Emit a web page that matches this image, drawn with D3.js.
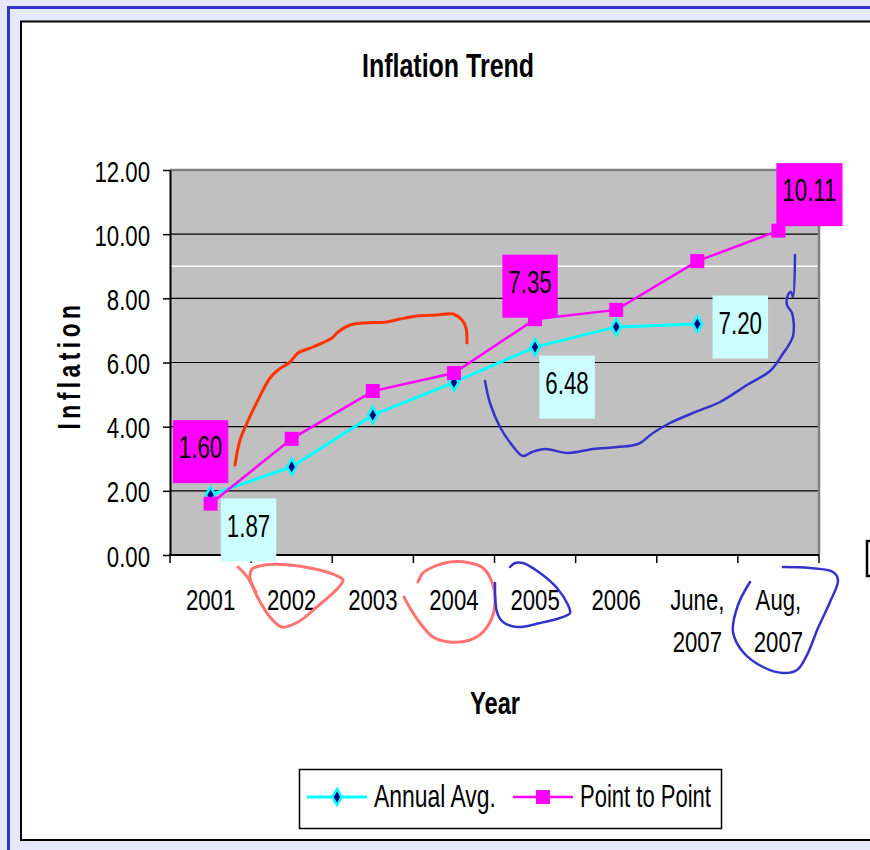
<!DOCTYPE html>
<html><head><meta charset="utf-8">
<script src="https://cdn.jsdelivr.net/npm/d3@7"></script>
<style>
html,body{margin:0;padding:0;background:#e6e9fc;overflow:hidden;}
svg{display:block;}
text{font-family:"Liberation Sans Narrow","Arial Narrow","Liberation Sans",Arial,sans-serif;fill:#000;}
</style></head><body>
<svg id="chart" width="870" height="850"></svg>
<script>
// ---------------- data ----------------
const categories = ["2001", "2002", "2003", "2004", "2005", "2006", "June, 2007", "Aug, 2007"];
const annualAvg = [1.87, 2.75, 4.36, 5.38, 6.48, 7.11, 7.20, null];
const pointToPoint = [1.60, 3.62, 5.11, 5.67, 7.35, 7.64, 9.16, 10.11];
const yTickValues = [0, 2, 4, 6, 8, 10, 12];
const referenceValue = 9.0;
const seriesNames = ["Annual Avg.", "Point to Point"];
const labelledAnnual = [0, 4, 6];
const labelledP2P = [0, 4, 7];

// ---------------- layout / style ----------------
const W = 870, H = 850;
const plot = {left: 170, right: 819, top: 170, bottom: 555};
const cyan = "#00ffff", magenta = "#ff00ff", navy = "#000080", paleCyan = "#ccffff";
const labelOffsetAnnual = {0: [38, 35], 4: [32, 40], 6: [43, 3]};
const labelOffsetP2P = {0: [-10, -52], 4: [-5, -33], 7: [31, -36]};

// narrow-font emulation: if a condensed face is not installed, squeeze horizontally
function hasFont(name) {
  const c = document.createElement("canvas").getContext("2d");
  c.font = "40px monospace"; const a = c.measureText("Inflation 12.00 Annual").width;
  c.font = `40px "${name}", monospace`; const b = c.measureText("Inflation 12.00 Annual").width;
  return a !== b;
}
const NARROW = hasFont("Liberation Sans Narrow") || hasFont("Arial Narrow");
const sq = s => NARROW ? 1 : s;

const svg = d3.select("#chart");
function ntext(parent, x, y, str, size, anchor, sx, extra) {
  return parent.append("text")
    .attr("transform", `translate(${x},${y})${extra || ""} scale(${sq(sx)},1)`)
    .attr("font-size", size).attr("text-anchor", anchor || "start").text(str);
}

// page frame
svg.append("rect").attr("x", 0).attr("y", 0).attr("width", W).attr("height", H).attr("fill", "#e6e9fc");
svg.append("line").attr("x1", 8).attr("x2", W).attr("y1", 7.5).attr("y2", 7.5).attr("stroke", "#3333cc").attr("stroke-width", 3);
svg.append("line").attr("x1", 8.5).attr("x2", 8.5).attr("y1", 6).attr("y2", H).attr("stroke", "#3333cc").attr("stroke-width", 3);
svg.append("rect").attr("x", 21).attr("y", 21.5).attr("width", W).attr("height", 818.5)
  .attr("fill", "#fff").attr("stroke", "#000").attr("stroke-width", 2);

// scales
const x = d3.scaleBand().domain(categories).range([plot.left, plot.right]).padding(0);
const y = d3.scaleLinear().domain([0, 12]).range([plot.bottom, plot.top]);
const cx = i => x(categories[i]) + x.bandwidth() / 2;

// plot background
svg.append("rect").attr("x", plot.left).attr("y", plot.top)
  .attr("width", plot.right - plot.left).attr("height", plot.bottom - plot.top).attr("fill", "#c0c0c0");

// gridlines
svg.append("g").selectAll("line").data(yTickValues.filter(v => v > 0 && v < 12)).join("line")
  .attr("x1", plot.left).attr("x2", plot.right).attr("y1", d => y(d)).attr("y2", d => y(d))
  .attr("stroke", "#000").attr("stroke-width", 1.2);
svg.append("line").attr("x1", plot.left).attr("x2", plot.right)
  .attr("y1", y(referenceValue)).attr("y2", y(referenceValue)).attr("stroke", "#fff").attr("stroke-width", 1.5);
svg.append("path").attr("d", `M${plot.left},${y(12)}H${plot.right}V${plot.bottom}`)
  .attr("fill", "none").attr("stroke", "#808080").attr("stroke-width", 2.5);

// y axis
const yAxis = svg.append("g").attr("transform", `translate(${plot.left},0)`)
  .call(d3.axisLeft(y).tickValues(yTickValues).tickFormat(d3.format(".2f")).tickSize(7).tickSizeOuter(0).tickPadding(13));
yAxis.select(".domain").attr("stroke", "#000").attr("stroke-width", 2);
yAxis.selectAll(".tick line").attr("stroke", "#000").attr("stroke-width", 1.5);
yAxis.selectAll(".tick text").each(function() {
  d3.select(this).attr("x", null).attr("dy", null).attr("font-family", null).attr("font-size", 30)
    .attr("text-anchor", "end").attr("transform", `translate(-20,11) scale(${sq(0.74)},1)`);
});

// x axis
svg.append("line").attr("x1", plot.left - 1).attr("x2", plot.right).attr("y1", plot.bottom).attr("y2", plot.bottom)
  .attr("stroke", "#000").attr("stroke-width", 2);
const bounds = categories.map(c => x(c)).concat([x.range()[1]]);
svg.append("g").selectAll("line").data(bounds).join("line")
  .attr("x1", d => d).attr("x2", d => d).attr("y1", plot.bottom).attr("y2", plot.bottom + 8)
  .attr("stroke", "#000").attr("stroke-width", 1.5);
const xg = svg.append("g");
categories.forEach((d, i) => {
  const parts = d.indexOf(", ") >= 0 ? [d.split(", ")[0] + ",", d.split(", ")[1]] : [d];
  parts.forEach((p, k) => ntext(xg, cx(i), 610 + k * 42, p, 30, "middle", 0.74));
});

// titles
ntext(svg, 448, 77, "Inflation Trend", 34, "middle", 0.735).attr("font-weight", "bold");
ntext(svg, 80, 365, "Inflation", 31, "middle", 0.74, " rotate(-90)").attr("font-weight", "bold").attr("letter-spacing", 6);
ntext(svg, 495, 714, "Year", 32, "middle", 0.74).attr("font-weight", "bold");

// series
const line = d3.line().defined(d => d != null).x((d, i) => cx(i)).y(d => y(d));
svg.append("path").datum(annualAvg).attr("d", line).attr("fill", "none").attr("stroke", cyan).attr("stroke-width", 3);
const diamond = d3.symbol().type(d3.symbolDiamond).size(75);
svg.append("g").selectAll("path").data(annualAvg.map((v, i) => ({v, i})).filter(d => d.v != null)).join("path")
  .attr("d", diamond).attr("transform", d => `translate(${cx(d.i)},${y(d.v)})`)
  .attr("fill", navy).attr("stroke", cyan).attr("stroke-width", 2.5);

svg.append("path").datum(pointToPoint).attr("d", line).attr("fill", "none").attr("stroke", magenta).attr("stroke-width", 2.5);
svg.append("g").selectAll("rect").data(pointToPoint.map((v, i) => ({v, i}))).join("rect")
  .attr("x", d => cx(d.i) - 7).attr("y", d => y(d.v) - 7).attr("width", 14).attr("height", 14).attr("fill", magenta);

// hand drawn annotations (freehand strokes in pixel space)
const ann = [
  {c: "#ff3300", w: 3, p: [[235,465],[240,440],[247,423],[257,402],[270,378],[278,370],[290,362],[298,353],[313,347],[332,338],[338,332],[350,325],[363,323],[387,322],[400,319],[417,316],[437,315],[453,314],[462,320],[466,328],[467,343]]},
  {c: "#3333cc", w: 2.5, p: [[485,381],[490,403],[500,427],[512,445],[523,456],[532,452],[545,449],[568,453],[593,449],[617,447],[638,444],[653,433],[670,423],[693,413],[720,402],[747,385],[770,371],[782,355],[793,336],[792,313],[787,305],[788,295],[791,292],[793,297],[795,255]]},
  {c: "#ff7373", w: 3, p: [[238,567],[248,578],[258,598],[270,617],[282,627],[298,622],[318,606],[338,588],[343,580],[335,575],[315,569],[290,565],[265,565],[252,569],[250,578],[256,592]]},
  {c: "#ff7373", w: 3, p: [[418,582],[423,573],[433,567],[450,562],[470,563],[483,568],[492,582],[495,598],[493,615],[483,632],[470,640],[450,642],[433,637],[420,623],[410,608],[404,597]]},
  {c: "#3333cc", w: 2.5, p: [[495,583],[497,612],[503,622],[517,627],[540,623],[560,618],[570,613],[568,605],[557,588],[540,573],[523,563],[515,563],[510,567]]},
  {c: "#3333cc", w: 2.5, p: [[750,582],[738,605],[733,632],[743,652],[763,667],[783,673],[797,670],[807,655],[818,628],[830,602],[838,580],[833,572],[810,568],[783,567]]}
];
const annLine = d3.line().curve(d3.curveCatmullRom);
svg.append("g").selectAll("path").data(ann).join("path")
  .attr("d", d => annLine(d.p)).attr("fill", "none").attr("stroke", d => d.c).attr("stroke-width", d => d.w)
  .attr("stroke-linecap", "round").attr("stroke-linejoin", "round");

// data labels
function drawLabel(i, v, off, fill) {
  const g = svg.append("g");
  const bx = cx(i) + off[0], by = y(v) + off[1], h = 63;
  const t = ntext(g, bx, by - h / 2 + 38, d3.format(".2f")(v), 31, "middle", 0.72);
  const w = t.node().getComputedTextLength() * sq(0.72) + 12;
  g.insert("rect", "text").attr("x", bx - w / 2).attr("y", by - h / 2).attr("width", w).attr("height", h).attr("fill", fill);
}
labelledAnnual.forEach(i => drawLabel(i, annualAvg[i], labelOffsetAnnual[i], paleCyan));
labelledP2P.forEach(i => drawLabel(i, pointToPoint[i], labelOffsetP2P[i], magenta));

// legend
const lg = svg.append("g");
lg.append("rect").attr("x", 299.5).attr("y", 769.5).attr("width", 422).attr("height", 59)
  .attr("fill", "#fff").attr("stroke", "#000").attr("stroke-width", 1.5);
lg.append("line").attr("x1", 307).attr("x2", 367).attr("y1", 797).attr("y2", 797).attr("stroke", cyan).attr("stroke-width", 3);
lg.append("path").attr("d", diamond).attr("transform", "translate(337,797)").attr("fill", navy).attr("stroke", cyan).attr("stroke-width", 2.5);
ntext(lg, 374, 807, seriesNames[0], 31, "start", 0.74);
lg.append("line").attr("x1", 513).attr("x2", 573).attr("y1", 797).attr("y2", 797).attr("stroke", magenta).attr("stroke-width", 2.5);
lg.append("rect").attr("x", 536).attr("y", 790).attr("width", 14).attr("height", 14).attr("fill", magenta);
ntext(lg, 580, 807, seriesNames[1], 31, "start", 0.71);

// partial neighbouring element at the right edge
svg.append("rect").attr("x", 867).attr("y", 541).attr("width", 12).attr("height", 35)
  .attr("fill", "#fff").attr("stroke", "#000").attr("stroke-width", 2.5);
</script>
</body></html>
